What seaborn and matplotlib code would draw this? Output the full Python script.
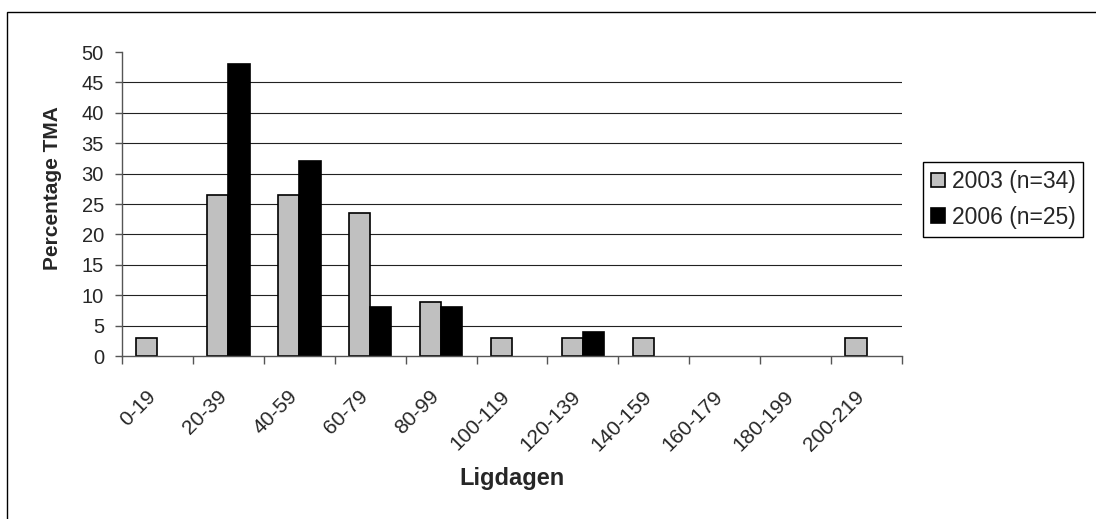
import matplotlib
matplotlib.use("Agg")
import matplotlib.pyplot as plt
import matplotlib.transforms as mtransforms
import seaborn as sns
import pandas as pd
import numpy as np
from matplotlib.patches import Patch, Rectangle

categories = ["0-19", "20-39", "40-59", "60-79", "80-99", "100-119",
              "120-139", "140-159", "160-179", "180-199", "200-219"]
series_names = ["2003 (n=34)", "2006 (n=25)"]
values_2003 = [2.94, 26.47, 26.47, 23.53, 8.82, 2.94, 2.94, 2.94, 0, 0, 2.94]
values_2006 = [0, 48, 32, 8, 8, 0, 4, 0, 0, 0, 0]
colors = ["#C0C0C0", "#000000"]
y_ticks = list(range(0, 55, 5))

sns.set_theme(style="white")
plt.rcParams["font.family"] = ["Liberation Sans", "DejaVu Sans"]

df = pd.DataFrame({
    "cat": categories * 2,
    "series": [series_names[0]] * len(categories) + [series_names[1]] * len(categories),
    "value": values_2003 + values_2006,
})
# zero-valued bars are not drawn in the original
df["plot_value"] = df["value"].replace(0, np.nan)

W, H = 1096, 519
fig = plt.figure(figsize=(W / 100, H / 100), dpi=100)
ax = fig.add_axes([122 / W, 1 - 356 / H, (902 - 122) / W, (356 - 52) / H])

sns.barplot(data=df, x="cat", y="plot_value", hue="series", order=categories,
            hue_order=series_names, palette=colors, width=0.6,
            edgecolor="black", linewidth=1.2, saturation=1, ax=ax, legend=False)

ax.set_xlim(-0.5, len(categories) - 0.5)
ax.set_ylim(0, 50)
ax.set_yticks(y_ticks)
for y in y_ticks[1:-1]:
    ax.axhline(y, color="#222222", linewidth=0.8, zorder=0)

for s in ["top", "right"]:
    ax.spines[s].set_visible(False)
for s in ["left", "bottom"]:
    ax.spines[s].set_color("#555555")
    ax.spines[s].set_linewidth(1.0)

ax.tick_params(axis="y", which="major", left=True, length=5, width=1.0,
               color="#555555", labelsize=14.5, pad=8)
ax.set_xticks(range(len(categories)))
ax.set_xticklabels(categories, rotation=45, ha="right", va="center",
                   rotation_mode="anchor", fontsize=15)
ax.tick_params(axis="x", which="major", bottom=False, length=0, pad=27)
offset = mtransforms.ScaledTranslation(-5 / 100, 0, fig.dpi_scale_trans)
for lbl in ax.get_xticklabels():
    lbl.set_transform(lbl.get_transform() + offset)
ax.set_xticks(np.arange(-0.5, len(categories), 1.0), minor=True)
ax.tick_params(axis="x", which="minor", bottom=True, length=5.5, width=1.0, color="#555555")

ax.set_xlabel("Ligdagen", fontsize=17, fontweight="bold")
ax.xaxis.set_label_coords(0.5, (356 - 467) / (356 - 52))
ax.xaxis.label.set_verticalalignment("top")
ax.set_ylabel("")
fig.text(53 / W, 1 - 188 / H, "Percentage TMA", rotation=90, ha="center",
         va="center", fontsize=15, fontweight="bold")

handles = [Patch(facecolor=c, edgecolor="black", linewidth=1.2) for c in colors]
fig.legend(handles, series_names, loc="upper left",
           bbox_to_anchor=(923 / W, 1 - 162 / H), fontsize=16.5,
           frameon=True, fancybox=False, edgecolor="black", framealpha=1,
           handlelength=0.6, handleheight=0.6, handletextpad=0.3,
           borderpad=0.35, labelspacing=0.55, borderaxespad=0)

fig.patches.append(Rectangle((7 / W, -0.05), 1.2, 1 - 12 / H + 0.05,
                             transform=fig.transFigure, fill=False,
                             edgecolor="black", linewidth=1.0, clip_on=False))

fig.savefig("out.png", dpi=100, facecolor="white")
